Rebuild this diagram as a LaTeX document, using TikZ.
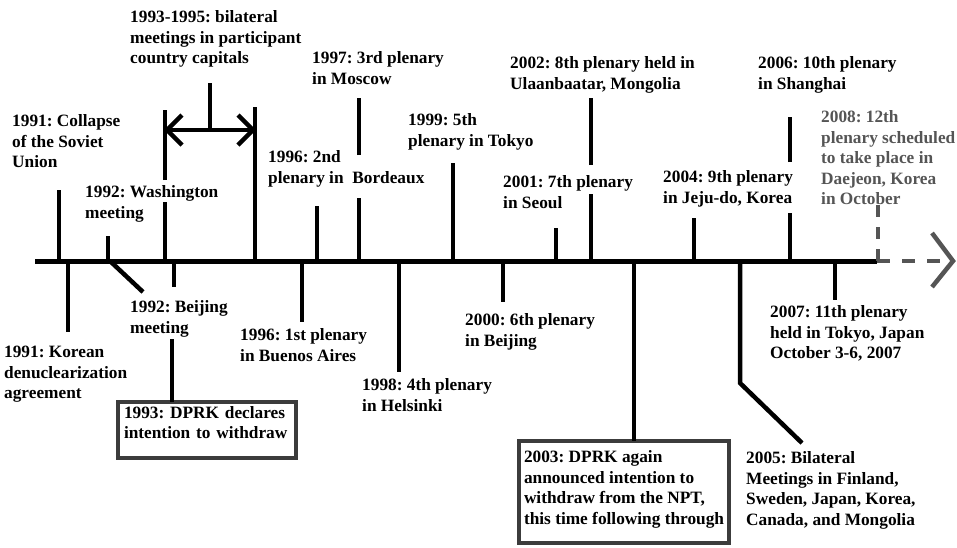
\documentclass[tikz,border=0pt]{standalone}
\usepackage{fontspec}
\setmainfont{Liberation Serif}
\frenchspacing
\definecolor{futgray}{HTML}{555555}
\definecolor{boxgray}{HTML}{3C3C3C}
\begin{document}
\begin{tikzpicture}[x=1pt,y=-1pt,
  mainln/.style={line width=5pt,black},
  tk/.style={line width=4.5pt,black},
  futln/.style={line width=4.5pt,futgray},
  lab/.style={anchor=north west,inner sep=0pt,align=left,font=\fontsize{17.3}{20.5}\selectfont\bfseries\frenchspacing},
  evbox/.style={lab,draw=boxgray,line width=4pt,fill=white,outer sep=0pt}]
\useasboundingbox (0,0) rectangle (957,547);

% timeline
\coordinate (tl0) at (35,261);
\coordinate (tl1) at (877,261);
\coordinate (tl2) at (945,261);
\coordinate (chv) at (953,261);
\draw[mainln] (tl0) -- (tl1);
\draw[futln,dash pattern=on 13pt off 12pt] (tl1) -- (tl2);
\draw[futln] (chv) ++(-21,-28) -- (chv) -- ++(-21,26);

% upward ticks
\coordinate (a91c) at (59,261);  \draw[tk] (a91c) -- ++(0,-71);
\coordinate (a92w) at (108,261); \draw[tk] (a92w) -- ++(0,-25);
\coordinate (bl) at (165,261);   \draw[tk] (bl) -- ++(0,-59);
\draw[tk] (bl) ++(0,-81) -- ++(0,-70);
\coordinate (br) at (255,261);   \draw[tk] (br) -- ++(0,-154);
\coordinate (hl) at (165,130);
\coordinate (hr) at (255,130);
\coordinate (hs) at (210,130);
\draw[tk] (hl) -- (hr);
\draw[tk] (hl) ++(17,-15) -- ++(-15,15) -- ++(15,15);
\draw[tk] (hr) ++(-17,-15) -- ++(15,15) -- ++(-15,15);
\draw[tk] (hs) -- ++(0,-47);
\coordinate (a96b) at (317,261); \draw[tk] (a96b) -- ++(0,-55);
\coordinate (a97) at (359,261);  \draw[tk] (a97) -- ++(0,-63);
\draw[tk] (a97) ++(0,-106) -- ++(0,-57);
\coordinate (a99) at (453,261);  \draw[tk] (a99) -- ++(0,-98);
\coordinate (a01) at (556,261);  \draw[tk] (a01) -- ++(0,-33);
\coordinate (a02) at (591,261);  \draw[tk] (a02) -- ++(0,-67);
\draw[tk] (a02) ++(0,-96) -- ++(0,-67);
\coordinate (a04) at (694,261);  \draw[tk] (a04) -- ++(0,-43);
\coordinate (a06) at (790,261);  \draw[tk] (a06) -- ++(0,-48);
\draw[tk] (a06) ++(0,-99) -- ++(0,-45);
\coordinate (a08) at (878,261);
\draw[futln,line width=4pt,dash pattern=on 12pt off 10pt] (878,205) -- (a08);

% downward ticks
\coordinate (a91k) at (68,261);  \draw[tk] (a91k) -- ++(0,71);
\coordinate (a92b) at (110,261); \draw[tk] (a92b) -- ++(33,31);
\coordinate (a92s) at (174,261); \draw[tk] (a92s) -- ++(0,26);
\coordinate (a96a) at (302,261); \draw[tk] (a96a) -- ++(0,61);
\coordinate (a98) at (399,261);  \draw[tk] (a98) -- ++(0,111);
\coordinate (a00) at (503,261);  \draw[tk] (a00) -- ++(0,41);
\coordinate (a05) at (740,261);  \draw[tk] (a05) -- ++(0,122) -- ++(62,60);
\coordinate (a07) at (835,261);  \draw[tk] (a07) -- ++(0,39);

% labels above
\node[lab] (n9395) at (130,8) {\strut 1993-1995: bilateral\\meetings in participant\\country capitals};
\node[lab] (n91c) at (12,112) {\strut 1991: Collapse\\of the Soviet\\Union};
\node[lab] (n92w) at (85,183) {\strut 1992: Washington\\meeting};
\node[lab] (n96b) at (268,148) {\strut 1996: 2nd\\plenary in\ \ Bordeaux};
\node[lab] (n97) at (312,49) {\strut 1997: 3rd plenary\\in Moscow};
\node[lab] (n99) at (408,111) {\strut 1999: 5th\\plenary in Tokyo};
\node[lab] (n01) at (503,173) {\strut 2001: 7th plenary\\in Seoul};
\node[lab] (n02) at (510,54) {\strut 2002: 8th plenary held in\\Ulaanbaatar, Mongolia};
\node[lab] (n06) at (758,54) {\strut 2006: 10th plenary\\in Shanghai};
\node[lab] (n04) at (663,168) {\strut 2004: 9th plenary\\in Jeju-do, Korea};
\node[lab,text=futgray] (n08) at (821,108) {\strut 2008: 12th\\plenary scheduled\\to take place in\\Daejeon, Korea\\in October};

% labels below
\node[lab] (n92b) at (130,298) {\strut 1992: Beijing\\meeting};
\node[lab] (n91k) at (4,343) {\strut 1991: Korean\\denuclearization\\agreement};
\node[lab] (n96a) at (240,326) {\strut 1996: 1st plenary\\in Buenos Aires};
\node[lab] (n98) at (362,376) {\strut 1998: 4th plenary\\in Helsinki};
\node[lab] (n00) at (465,311) {\strut 2000: 6th plenary\\in Beijing};
\node[lab] (n07) at (770,303) {\strut 2007: 11th plenary\\held in Tokyo, Japan\\October 3-6, 2007};
\node[lab] (n05) at (746,449) {\strut 2005: Bilateral\\Meetings in Finland,\\Sweden, Japan, Korea,\\Canada, and Mongolia};

% boxed events
\node[evbox,text width=166pt,inner xsep=6pt,inner ysep=2.5pt] (n93) at (118,401.5)
  {\strut 1993: DPRK declares\\intention to withdraw\rule[-16.7pt]{0pt}{16.7pt}};
\node[evbox,inner xsep=5pt,inner ysep=8pt] (n03) at (519,440.5)
  {\strut 2003: DPRK again\\announced intention to\\withdraw from the NPT,\\this time following through\rule[-10.5pt]{0pt}{10.5pt}};
\coordinate (b93) at (172,339);
\draw[tk] (b93) -- (b93 |- n93.north);
\coordinate (a03) at (634,261);
\draw[tk] (a03) -- (a03 |- n03.north);
\end{tikzpicture}
\end{document}
